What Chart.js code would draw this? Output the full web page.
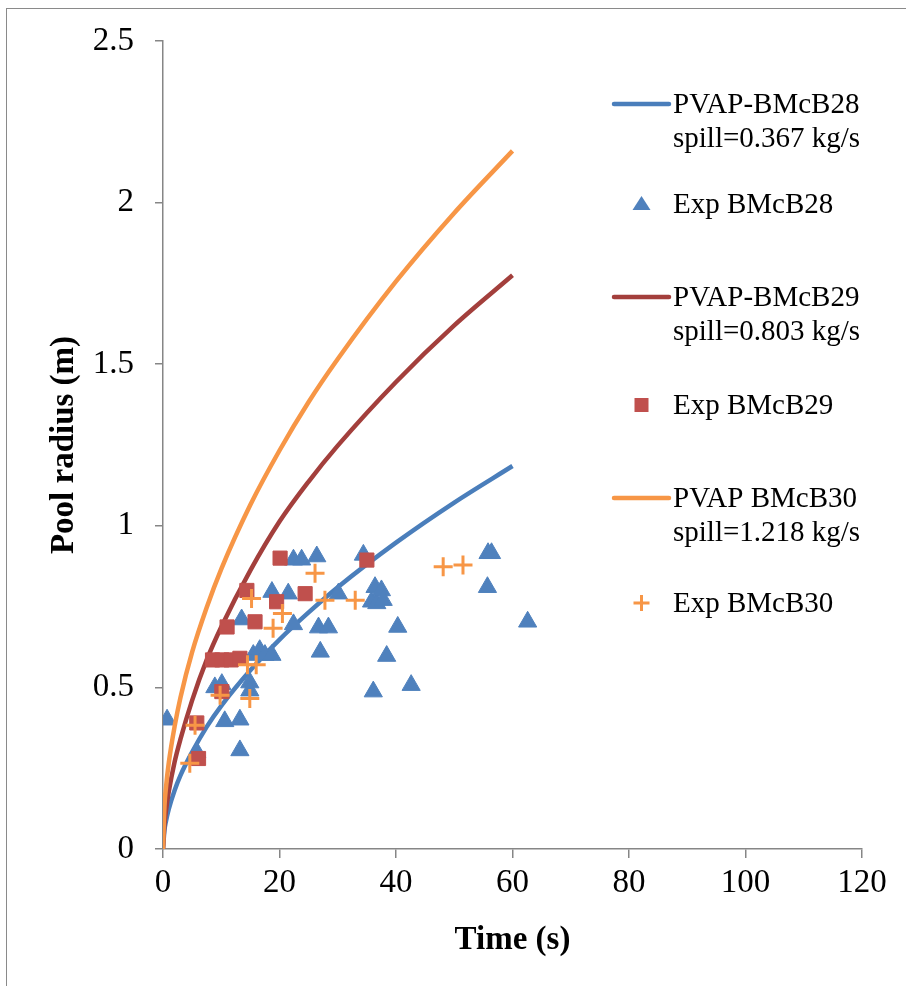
<!DOCTYPE html>
<html>
<head>
<meta charset="utf-8">
<script src="https://cdn.jsdelivr.net/npm/chart.js@4/dist/chart.umd.min.js"></script>
<style>
  html, body { margin: 0; padding: 0; background: #fff; }
  #wrap { position: relative; width: 906px; height: 986px; overflow: hidden; }
  #frame { position: absolute; left: 6px; top: 8px; width: 1200px; height: 1200px; border: 1.5px solid #8a8a8a; box-sizing: border-box; }
  #c { position: absolute; left: 0; top: 0; }
</style>
</head>
<body>
<div id="wrap">
  <div id="frame"></div>
  <canvas id="c" width="906" height="986"></canvas>
</div>
<script>
// ---- data ----
const xTicks = [0, 20, 40, 60, 80, 100, 120];
const yTicks = [0, 0.5, 1, 1.5, 2, 2.5];
const yTickLabels = ['0', '0.5', '1', '1.5', '2', '2.5'];

const timeModel  = [0, 0.25, 0.5, 1, 2, 3, 5, 7.5, 10, 15, 20, 25, 30, 40, 50, 60];
const pvap28     = [0, 0.058, 0.085, 0.124, 0.182, 0.228, 0.30, 0.378, 0.443, 0.553, 0.648, 0.732, 0.81, 0.948, 1.072, 1.185];
const pvap29     = [0, 0.077, 0.117, 0.178, 0.27, 0.34, 0.46, 0.585, 0.687, 0.862, 1.013, 1.137, 1.248, 1.445, 1.62, 1.775];
const pvap30     = [0, 0.132, 0.188, 0.268, 0.38, 0.469, 0.609, 0.747, 0.866, 1.065, 1.233, 1.383, 1.516, 1.756, 1.968, 2.16];

const exp28T = [0.7, 5.8, 8.9, 10.1, 10.6, 13.2, 13.2, 13.5, 14.9, 14.9, 15.5, 16.6, 17.5, 18.7, 18.7, 21.5, 22.4, 22.4, 23.8, 26.4, 26.7, 27.0, 28.4, 30.1, 34.4, 35.8, 36.1, 36.4, 36.7, 37.5, 37.8, 38.4, 40.3, 42.6, 55.7, 55.8, 56.4, 62.6];
const exp28R = [0.40, 0.30, 0.50, 0.51, 0.395, 0.40, 0.305, 0.71, 0.515, 0.49, 0.60, 0.615, 0.60, 0.60, 0.795, 0.79, 0.895, 0.695, 0.895, 0.905, 0.685, 0.61, 0.685, 0.79, 0.91, 0.765, 0.487, 0.81, 0.76, 0.80, 0.77, 0.597, 0.687, 0.507, 0.81, 0.915, 0.915, 0.703];

const exp29T = [6.1, 5.8, 10.1, 8.5, 10.1, 11.7, 13.2, 11.0, 14.4, 15.8, 19.5, 20.1, 24.4, 35.0];
const exp29R = [0.28, 0.39, 0.487, 0.585, 0.585, 0.585, 0.59, 0.687, 0.80, 0.703, 0.765, 0.90, 0.79, 0.894];

const exp30T = [4.6, 5.5, 9.8, 14.9, 14.5, 16.0, 18.9, 20.5, 15.2, 26.1, 27.8, 33.0, 48.1, 51.5];
const exp30R = [0.265, 0.383, 0.476, 0.466, 0.57, 0.57, 0.683, 0.729, 0.775, 0.853, 0.77, 0.77, 0.873, 0.879];

const seriesLabels = [
  ['PVAP-BMcB28', 'spill=0.367 kg/s'],
  ['Exp BMcB28'],
  ['PVAP-BMcB29', 'spill=0.803 kg/s'],
  ['Exp BMcB29'],
  ['PVAP BMcB30', 'spill=1.218 kg/s'],
  ['Exp BMcB30']
];
const xTitle = 'Time (s)';
const yTitle = 'Pool radius (m)';

// ---- build ----
const pts = (xs, ys) => xs.map((x, i) => ({ x: x, y: ys[i] }));
const SERIF = "'Liberation Serif', 'Times New Roman', serif";
const AXIS = '#868686';

const lineDs = (label, ys, color, order) => ({
  label, data: pts(timeModel, ys), showLine: true, borderColor: color, backgroundColor: color,
  borderWidth: 4.5, pointRadius: 0, cubicInterpolationMode: 'monotone', order
});

const datasets = [
  lineDs(seriesLabels[0], pvap28, '#4A7EBB', 6),
  { label: seriesLabels[1], data: pts(exp28T, exp28R), pointStyle: 'triangle', pointRadius: 10.5,
    backgroundColor: '#4F81BD', borderColor: '#4F81BD', borderWidth: 1, order: 5 },
  lineDs(seriesLabels[2], pvap29, '#A33F3C', 4),
  { label: seriesLabels[3], data: pts(exp29T, exp29R), pointStyle: 'rect', pointRadius: 10,
    backgroundColor: '#C0504D', borderColor: '#C0504D', borderWidth: 1, order: 3 },
  lineDs(seriesLabels[4], pvap30, '#F79646', 2),
  { label: seriesLabels[5], data: pts(exp30T, exp30R), pointStyle: 'cross', pointRadius: 9.5,
    backgroundColor: '#F79646', borderColor: '#F79646', borderWidth: 3, order: 1 }
];

// legend row layout (positions only)
const legendRowY = [104, 204, 297, 405, 498, 603];
const legendLineGap = 34;

const sideLegend = {
  id: 'sideLegend',
  afterDraw(chart) {
    const ctx = chart.ctx;
    chart.data.datasets.forEach((ds, i) => {
      const y = legendRowY[i];
      ctx.save();
      const mx = 641.5;
      if (ds.showLine) {
        ctx.strokeStyle = ds.borderColor; ctx.lineWidth = 4.5; ctx.lineCap = 'round';
        ctx.beginPath(); ctx.moveTo(614, y); ctx.lineTo(669, y); ctx.stroke();
      } else if (ds.pointStyle === 'triangle') {
        ctx.fillStyle = ds.backgroundColor;
        ctx.beginPath(); ctx.moveTo(mx, y - 8); ctx.lineTo(mx + 9, y + 6); ctx.lineTo(mx - 9, y + 6); ctx.closePath(); ctx.fill();
      } else if (ds.pointStyle === 'rect') {
        ctx.fillStyle = ds.backgroundColor;
        ctx.fillRect(mx - 7, y - 7, 14, 14);
      } else if (ds.pointStyle === 'cross') {
        ctx.strokeStyle = ds.borderColor; ctx.lineWidth = 3;
        ctx.beginPath(); ctx.moveTo(mx - 8, y); ctx.lineTo(mx + 8, y); ctx.moveTo(mx, y - 8); ctx.lineTo(mx, y + 8); ctx.stroke();
      }
      ctx.fillStyle = '#000';
      ctx.font = '29px ' + SERIF;
      ctx.textAlign = 'left'; ctx.textBaseline = 'middle';
      const lines = Array.isArray(ds.label) ? ds.label : [ds.label];
      lines.forEach((t, k) => ctx.fillText(t, 673, y + 1 + k * legendLineGap));
      ctx.restore();
    });
  }
};

new Chart(document.getElementById('c'), {
  type: 'scatter',
  data: { datasets },
  plugins: [sideLegend],
  options: {
    responsive: false,
    devicePixelRatio: 1,
    animation: false,
    events: [],
    layout: { padding: { left: 0, top: 41, right: 44, bottom: 0 } },
    plugins: { legend: { display: false }, tooltip: { enabled: false } },
    scales: {
      x: {
        type: 'linear', min: 0, max: 120,
        afterBuildTicks: s => { s.ticks = xTicks.map(v => ({ value: v })); },
        afterFit: s => { s.height = 986 - 849; },
        grid: { drawOnChartArea: false, drawTicks: true, tickLength: 9, color: AXIS, lineWidth: 1.5 },
        border: { color: AXIS, width: 1.5 },
        ticks: { color: '#000', font: { family: SERIF, size: 33 }, padding: 6, maxRotation: 0,
                 callback: v => String(v) },
        title: { display: true, text: xTitle, color: '#000', font: { family: SERIF, size: 33, weight: 'bold' }, padding: { bottom: 26 } }
      },
      y: {
        type: 'linear', min: 0, max: 2.5,
        afterBuildTicks: s => { s.ticks = yTicks.map(v => ({ value: v })); },
        afterFit: s => { s.width = 163; },
        grid: { drawOnChartArea: false, drawTicks: true, tickLength: 8, color: AXIS, lineWidth: 1.5 },
        border: { color: AXIS, width: 1.5 },
        ticks: { color: '#000', font: { family: SERIF, size: 33 }, padding: 21,
                 callback: v => { const k = yTicks.indexOf(v); return k >= 0 ? yTickLabels[k] : ''; } },
        title: { display: true, text: yTitle, color: '#000', font: { family: SERIF, size: 33, weight: 'bold' }, padding: { top: 45 } }
      }
    }
  }
});
</script>
</body>
</html>
